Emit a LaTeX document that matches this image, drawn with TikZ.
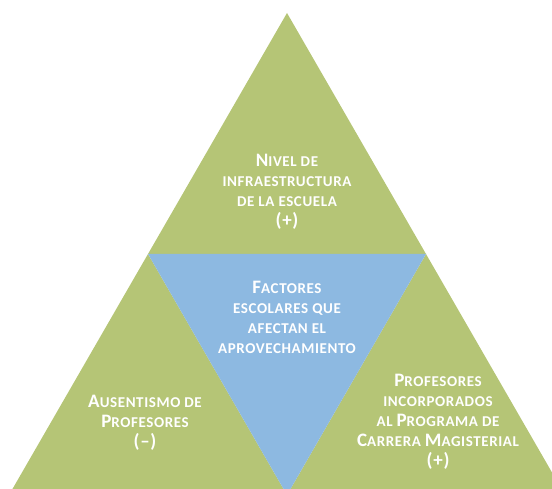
\documentclass[tikz,border=0pt]{standalone}
\usepackage{fontspec}
\setmainfont{Carlito}[LetterSpace=4]
\definecolor{pyrgreen}{RGB}{181,197,118}
\definecolor{pyrblue}{RGB}{141,185,225}
\newcommand{\initcap}[1]{{\fontsize{19}{20}\selectfont #1}}
\tikzset{
  facet/.style={draw=none,line join=miter},
  factor/.style={text=white,align=center,inner sep=0pt,
    font=\bfseries\fontsize{15}{20}\selectfont},
}
\begin{document}
\begin{tikzpicture}[y=1pt, x=1pt, yscale=-1]
\useasboundingbox (0,0) rectangle (552,489);
\clip (0,0) rectangle (552,489);
  % outer triangle corners
  \coordinate (apex) at (287,13);
  \coordinate (midl) at (148,254);
  \coordinate (midr) at (426,254);
  \coordinate (botl) at (9,495);
  \coordinate (botm) at (287,495);
  \coordinate (botr) at (565,495);
  % the four facets
  \path[facet,fill=pyrgreen] (apex) -- (midr) -- (midl) -- cycle;
  \path[facet,fill=pyrgreen] (midl) -- (botm) -- (botl) -- cycle;
  \path[facet,fill=pyrgreen] (midr) -- (botr) -- (botm) -- cycle;
  \path[facet,fill=pyrblue] (midl) -- (midr) -- (botm) -- cycle;
  % texts
  \node[factor] (infra) at (287,192)
    {\initcap{N}IVEL DE\\INFRAESTRUCTURA\\DE LA ESCUELA\\\initcap{(+)}};
  \node[factor] (centro) at (287,317)
    {\initcap{F}ACTORES\\ESCOLARES QUE\\AFECTAN EL\\APROVECHAMIENTO};
  \node[factor] (ausente) at (145,423)
    {\initcap{A}USENTISMO DE\\\initcap{P}ROFESORES\\\initcap{(--)}};
  \node[factor] (carrera) at (438,422)
    {\initcap{P}ROFESORES\\INCORPORADOS\\AL \initcap{P}ROGRAMA DE\\\initcap{C}ARRERA \initcap{M}AGISTERIAL\\\initcap{(+)}};
\end{tikzpicture}
\end{document}
